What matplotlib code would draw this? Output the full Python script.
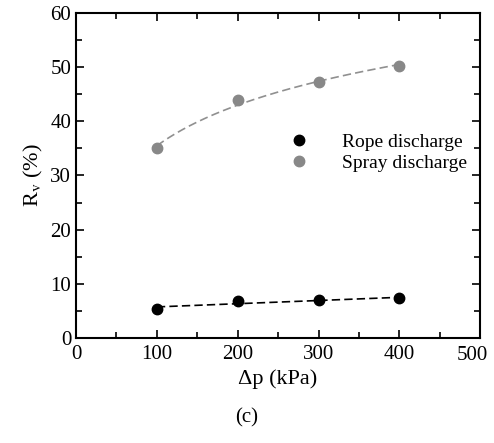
import numpy as np
import matplotlib
matplotlib.use('Agg')
import matplotlib.pyplot as plt
from matplotlib.ticker import MultipleLocator, FuncFormatter

plt.rcParams['font.family'] = 'Liberation Serif'
plt.rcParams['mathtext.fontset'] = 'stix'

dp = np.array([100, 200, 300, 400])
rope = np.array([5.4, 6.8, 7.0, 7.3])
spray = np.array([35.0, 44.0, 47.2, 50.1])

# fits: spray logarithmic, rope linear
xf = np.linspace(100, 400, 200)
bs = np.polyfit(np.log(dp), spray, 1)
br = np.polyfit(dp, rope, 1)

fig = plt.figure(figsize=(4.94, 4.43), dpi=100)
ax = fig.add_axes([0.154, 0.237, 0.818, 0.734])

ax.plot(xf, np.polyval(bs, np.log(xf)), '--', color='#909090', lw=1.2, dashes=(5, 2.5))
ax.plot(xf, np.polyval(br, xf), '--', color='black', lw=1.2, dashes=(5, 2.5))
ax.plot(dp, rope, 'o', color='black', ms=7.5, label='Rope discharge')
ax.plot(dp, spray, 'o', color='#888888', ms=7.5, label='Spray discharge')

ax.set_xlim(0, 500)
ax.set_ylim(0, 60)
ax.xaxis.set_major_locator(MultipleLocator(100))
ax.xaxis.set_minor_locator(MultipleLocator(50))
ax.yaxis.set_major_locator(MultipleLocator(10))
ax.yaxis.set_minor_locator(MultipleLocator(5))
# last x label drawn separately, pulled in so it stays inside the figure
ax.xaxis.set_major_formatter(FuncFormatter(lambda v, p: '' if v >= 500 else '%d' % v))
ax.annotate('500', xy=(500, 0), xycoords='data', xytext=(-6, -5.5),
            textcoords='offset points', ha='center', va='top', fontsize=15)
ax.tick_params(which='both', direction='in', top=True, right=True, width=1.2, labelsize=15)
ax.tick_params(which='major', length=6)
ax.tick_params(which='minor', length=4)
ax.tick_params(axis='x', pad=5)
for s in ax.spines.values():
    s.set_linewidth(1.5)

ax.set_xlabel('Δp (kPa)', fontsize=16, labelpad=4)
ax.set_ylabel('R$_\\mathrm{v}$ (%)', fontsize=16)

ax.legend(loc='center left', bbox_to_anchor=(0.485, 0.57), frameon=False,
          fontsize=14, handlelength=1.0, handletextpad=1.7, labelspacing=0.15)

fig.text(0.5, 0.056, '(c)', ha='center', va='center', fontsize=15)

fig.savefig('out.png', dpi=100)
